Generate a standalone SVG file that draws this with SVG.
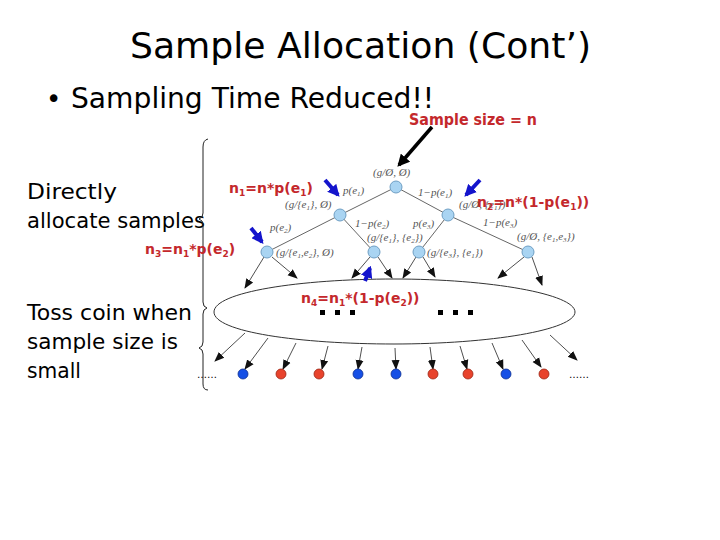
<svg xmlns="http://www.w3.org/2000/svg" width="720" height="540" viewBox="0 0 720 540">
<style>
.comic{font-family:"DejaVu Sans","Liberation Sans",sans-serif;fill:#000}
.red{font-family:"DejaVu Sans","Liberation Sans",sans-serif;fill:#c4282c;font-weight:bold}
.lbl{font-family:"Liberation Serif","DejaVu Serif",serif;font-style:italic;fill:#555;font-size:11px}
.edge{stroke:#555;stroke-width:0.9;fill:none}
.arr{stroke:#222;stroke-width:0.8;fill:none;marker-end:url(#ah)}
.node{fill:#a9d4f2;stroke:#6f9fc4;stroke-width:1}
.blue{fill:#1650e6;stroke:#0c2f90;stroke-width:0.8}
.redc{fill:#e8432c;stroke:#9a2414;stroke-width:0.8}
.barr{stroke:#1414cc;stroke-width:4;fill:none;marker-end:url(#bh)}
</style>
<defs>
<marker id="ah" viewBox="0 0 10 10" refX="9" refY="5" markerWidth="10" markerHeight="10" orient="auto" markerUnits="userSpaceOnUse"><path d="M0,1 L10,5 L0,9 z" fill="#111"/></marker>
<marker id="bh" viewBox="0 0 10 10" refX="8" refY="5" markerWidth="3" markerHeight="3" orient="auto"><path d="M0,0 L10,5 L0,10 z" fill="#1414cc"/></marker>
<marker id="kh" viewBox="0 0 10 10" refX="8" refY="5" markerWidth="3.5" markerHeight="3.5" orient="auto"><path d="M0,0 L10,5 L0,10 z" fill="#000"/></marker>
</defs>
<rect width="720" height="540" fill="#fff"/>

<g id="title">
<text class="comic" x="130" y="58" font-size="36" textLength="461" lengthAdjust="spacingAndGlyphs">Sample Allocation (Cont’)</text>
</g>
<g id="bullet">
<text class="comic" x="46" y="108" font-size="26">•</text>
<text class="comic" x="71" y="108" font-size="28" textLength="363" lengthAdjust="spacingAndGlyphs">Sampling Time Reduced!!</text>
</g>
<g id="sample-size">
<text class="red" x="409" y="125" font-size="15" font-weight="normal" textLength="128" lengthAdjust="spacingAndGlyphs">Sample size = n</text>
</g>
<g id="left-text">
<text class="comic" x="27" y="199" font-size="22" textLength="90" lengthAdjust="spacingAndGlyphs">Directly</text>
<text class="comic" x="27" y="228" font-size="22" textLength="178" lengthAdjust="spacingAndGlyphs">allocate samples</text>
<text class="comic" x="27" y="320" font-size="22" textLength="165" lengthAdjust="spacingAndGlyphs">Toss coin when</text>
<text class="comic" x="27" y="349" font-size="22" textLength="151" lengthAdjust="spacingAndGlyphs">sample size is</text>
<text class="comic" x="27" y="378" font-size="22" textLength="54" lengthAdjust="spacingAndGlyphs">small</text>
</g>
<g id="brace">
<path d="M208,139 Q203,140 203,147 L203,213 Q203,218 199,219 Q203,220 203,225 L203,302 Q203,307 207,308" fill="none" stroke="#222" stroke-width="1"/>
<path d="M207,308 Q203,309 203,314 L203,342 Q203,347 199,348 Q203,349 203,354 L203,384 Q203,390 208,390" fill="none" stroke="#222" stroke-width="1"/>
</g>

<g id="connectors">
<line class="edge" x1="396" y1="187" x2="340" y2="215"/>
<line class="edge" x1="396" y1="187" x2="448" y2="215"/>
<line class="edge" x1="340" y1="215" x2="267" y2="252"/>
<line class="edge" x1="340" y1="215" x2="374" y2="252"/>
<line class="edge" x1="448" y1="215" x2="419" y2="252"/>
<line class="edge" x1="448" y1="215" x2="528" y2="252"/>
<line class="arr" x1="264" y1="257" x2="245" y2="288"/>
<line class="arr" x1="272" y1="257" x2="297" y2="278"/>
<line class="arr" x1="370" y1="257" x2="352" y2="278"/>
<line class="arr" x1="378" y1="257" x2="392" y2="278"/>
<line class="arr" x1="416" y1="257" x2="403" y2="278"/>
<line class="arr" x1="423" y1="257" x2="435" y2="277"/>
<line class="arr" x1="524" y1="257" x2="498" y2="278"/>
<line class="arr" x1="532" y1="257" x2="542" y2="285"/>
<line class="arr" x1="245" y1="333" x2="215" y2="361"/>
<line class="arr" x1="268" y1="338" x2="245" y2="369"/>
<line class="arr" x1="296" y1="343" x2="283" y2="369"/>
<line class="arr" x1="328" y1="346" x2="322" y2="369"/>
<line class="arr" x1="362" y1="347" x2="358" y2="369"/>
<line class="arr" x1="395" y1="348" x2="396" y2="369"/>
<line class="arr" x1="430" y1="347" x2="433" y2="369"/>
<line class="arr" x1="460" y1="346" x2="467" y2="369"/>
<line class="arr" x1="492" y1="343" x2="503" y2="369"/>
<line class="arr" x1="522" y1="340" x2="541" y2="367"/>
<line class="arr" x1="550" y1="335" x2="577" y2="360"/>
</g>

<g id="ellipse">
<path d="M214,312 C214,292 300,279 394,279 C490,279 575,294 575,312 C575,330 490,344 394,344 C300,344 214,332 214,312 Z" fill="#fff" stroke="#333" stroke-width="1"/>
<rect x="320" y="310" width="5" height="5"/><rect x="335" y="310" width="5" height="5"/><rect x="350" y="310" width="5" height="5"/>
<rect x="438" y="310" width="5" height="5"/><rect x="453" y="310" width="5" height="5"/><rect x="468" y="310" width="5" height="5"/>
</g>

<g id="tree-nodes">
<circle class="node" cx="396" cy="187" r="6"/>
<circle class="node" cx="340" cy="215" r="6"/>
<circle class="node" cx="448" cy="215" r="6"/>
<circle class="node" cx="267" cy="252" r="6"/>
<circle class="node" cx="374" cy="252" r="6"/>
<circle class="node" cx="419" cy="252" r="6"/>
<circle class="node" cx="528" cy="252" r="6"/>
</g>

<g id="tree-labels">
<text class="lbl" x="373" y="176">(g/Ø, Ø)</text>
<text class="lbl" x="343" y="194">p(e<tspan font-size="7" dy="2">1</tspan><tspan dy="-2">)</tspan></text>
<text class="lbl" x="418" y="196">1−p(e<tspan font-size="7" dy="2">1</tspan><tspan dy="-2">)</tspan></text>
<text class="lbl" x="285" y="208">(g/{e<tspan font-size="7" dy="2">1</tspan><tspan dy="-2">}, Ø)</tspan></text>
<text class="lbl" x="459" y="208">(g/Ø, {e<tspan font-size="7" dy="2">1</tspan><tspan dy="-2">})</tspan></text>
<text class="lbl" x="270" y="231">p(e<tspan font-size="7" dy="2">2</tspan><tspan dy="-2">)</tspan></text>
<text class="lbl" x="355" y="227">1−p(e<tspan font-size="7" dy="2">2</tspan><tspan dy="-2">)</tspan></text>
<text class="lbl" x="413" y="227">p(e<tspan font-size="7" dy="2">3</tspan><tspan dy="-2">)</tspan></text>
<text class="lbl" x="483" y="226">1−p(e<tspan font-size="7" dy="2">3</tspan><tspan dy="-2">)</tspan></text>
<text class="lbl" x="367" y="241">(g/{e<tspan font-size="7" dy="2">1</tspan><tspan dy="-2">}, {e</tspan><tspan font-size="7" dy="2">2</tspan><tspan dy="-2">})</tspan></text>
<text class="lbl" x="517" y="240">(g/Ø, {e<tspan font-size="7" dy="2">1</tspan><tspan dy="-2">,e</tspan><tspan font-size="7" dy="2">3</tspan><tspan dy="-2">})</tspan></text>
<text class="lbl" x="276" y="256">(g/{e<tspan font-size="7" dy="2">1</tspan><tspan dy="-2">,e</tspan><tspan font-size="7" dy="2">2</tspan><tspan dy="-2">}, Ø)</tspan></text>
<text class="lbl" x="427" y="256">(g/{e<tspan font-size="7" dy="2">3</tspan><tspan dy="-2">}, {e</tspan><tspan font-size="7" dy="2">1</tspan><tspan dy="-2">})</tspan></text>
</g>

<g id="leaves">
<circle class="blue" cx="243" cy="374" r="5"/>
<circle class="redc" cx="281" cy="374" r="5"/>
<circle class="redc" cx="319" cy="374" r="5"/>
<circle class="blue" cx="358" cy="374" r="5"/>
<circle class="blue" cx="396" cy="374" r="5"/>
<circle class="redc" cx="433" cy="374" r="5"/>
<circle class="redc" cx="468" cy="374" r="5"/>
<circle class="blue" cx="506" cy="374" r="5"/>
<circle class="redc" cx="544" cy="374" r="5"/>
<text class="comic" x="197" y="378" font-size="10" fill="#333">……</text>
<text class="comic" x="569" y="378" font-size="10" fill="#333">……</text>
</g>

<g id="pointer-arrows">
<line x1="432" y1="127" x2="399" y2="165" stroke="#000" stroke-width="3.5" marker-end="url(#kh)"/>
<line class="barr" x1="325" y1="180" x2="338" y2="195"/>
<line class="barr" x1="251" y1="228" x2="262" y2="242"/>
<line class="barr" x1="480" y1="180" x2="466" y2="195"/>
<line class="barr" x1="365" y1="281" x2="370" y2="268"/>
</g>

<g id="size-labels">
<text class="red" x="229" y="193" font-size="14">n<tspan font-size="9" dy="3">1</tspan><tspan dy="-3">=n*p(e</tspan><tspan font-size="9" dy="3">1</tspan><tspan dy="-3">)</tspan></text>
<text class="red" x="477" y="207" font-size="14">n<tspan font-size="9" dy="3">2</tspan><tspan dy="-3">=n*(1-p(e</tspan><tspan font-size="9" dy="3">1</tspan><tspan dy="-3">))</tspan></text>
<text class="red" x="145" y="254" font-size="14">n<tspan font-size="9" dy="3">3</tspan><tspan dy="-3">=n</tspan><tspan font-size="9" dy="3">1</tspan><tspan dy="-3">*p(e</tspan><tspan font-size="9" dy="3">2</tspan><tspan dy="-3">)</tspan></text>
<text class="red" x="301" y="303" font-size="14">n<tspan font-size="9" dy="3">4</tspan><tspan dy="-3">=n</tspan><tspan font-size="9" dy="3">1</tspan><tspan dy="-3">*(1-p(e</tspan><tspan font-size="9" dy="3">2</tspan><tspan dy="-3">))</tspan></text>
</g>
</svg>
